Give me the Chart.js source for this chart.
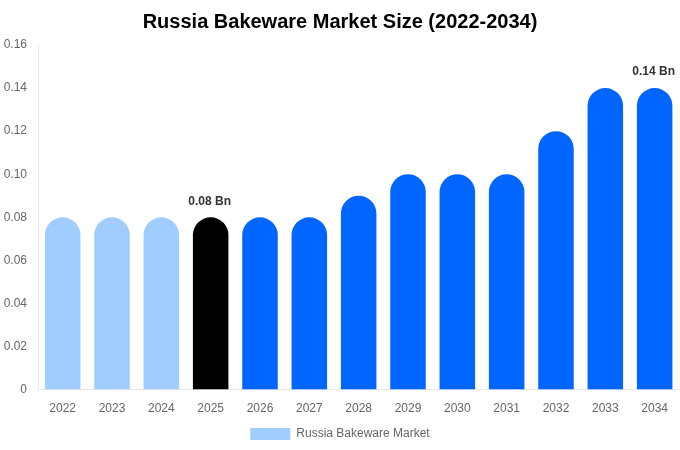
<!DOCTYPE html>
<html>
<head>
<meta charset="utf-8">
<script src="https://cdn.jsdelivr.net/npm/chart.js@4"></script>
<style>
  html, body { margin: 0; padding: 0; background: #fff; }
  #wrap { width: 680px; height: 450px; }
</style>
</head>
<body>
<div id="wrap"><canvas id="marketChart"></canvas></div>
<script>
// chart data
const years = ['2022', '2023', '2024', '2025', '2026', '2027', '2028', '2029', '2030', '2031', '2032', '2033', '2034'];
const marketSize = [0.08, 0.08, 0.08, 0.08, 0.08, 0.08, 0.09, 0.10, 0.10, 0.10, 0.12, 0.14, 0.14];
const yTicks = [0, 0.02, 0.04, 0.06, 0.08, 0.10, 0.12, 0.14, 0.16];
const labelledYears = ['2025', '2034'];

const barColors = years.map(y => {
    const n = parseInt(y);
    if (n < 2025) return '#a0cdfd';
    if (n === 2025) return '#000000';
    return '#0066ff';
});

// draws "x Bn" above selected bars
const valueLabels = {
    id: 'valueLabels',
    afterDatasetsDraw(chart) {
        const ctx = chart.ctx;
        const meta = chart.getDatasetMeta(0);
        ctx.save();
        ctx.font = 'bold 12px "Liberation Sans", Arial, sans-serif';
        ctx.fillStyle = '#333';
        ctx.textAlign = 'center';
        ctx.textBaseline = 'bottom';
        meta.data.forEach((bar, i) => {
            if (labelledYears.includes(years[i])) {
                ctx.fillText(marketSize[i].toFixed(2) + ' Bn', bar.x - 1, bar.y - 10);
            }
        });
        ctx.restore();
    }
};

Chart.defaults.font.family = '"Liberation Sans", Arial, sans-serif';

new Chart(document.getElementById('marketChart'), {
    type: 'bar',
    data: {
        labels: years,
        datasets: [{
            label: 'Russia Bakeware Market',
            data: marketSize,
            backgroundColor: barColors,
            borderRadius: 30,
            borderSkipped: 'bottom'
        }]
    },
    options: {
        responsive: true,
        maintainAspectRatio: false,
        animation: false,
        layout: { padding: 0 },
        plugins: {
            title: {
                display: true,
                text: 'Russia Bakeware Market Size (2022-2034)',
                color: '#000',
                font: { size: 20, weight: 'bold' },
                padding: { top: 10, bottom: 11 }
            },
            legend: {
                position: 'bottom',
                labels: { color: '#666', font: { size: 12 }, boxWidth: 40, boxHeight: 12, padding: 3 }
            },
            tooltip: { enabled: false }
        },
        scales: {
            x: {
                grid: { display: false, drawTicks: false },
                border: { color: '#e5e5e5' },
                afterFit(axis) {
                    axis.height -= 3;
                },
                ticks: { color: '#666', font: { size: 12 }, padding: 12 }
            },
            y: {
                min: 0,
                max: 0.16,
                grid: { display: false, drawTicks: false },
                border: { color: '#e5e5e5' },
                afterBuildTicks(axis) {
                    axis.ticks = yTicks.map(v => ({ value: v }));
                },
                afterFit(axis) {
                    axis.width = 38;
                },
                ticks: {
                    color: '#666',
                    font: { size: 12 },
                    padding: 11,
                    callback: v => v === 0 ? '0' : v.toFixed(2)
                }
            }
        }
    },
    plugins: [valueLabels]
});
</script>
</body>
</html>
